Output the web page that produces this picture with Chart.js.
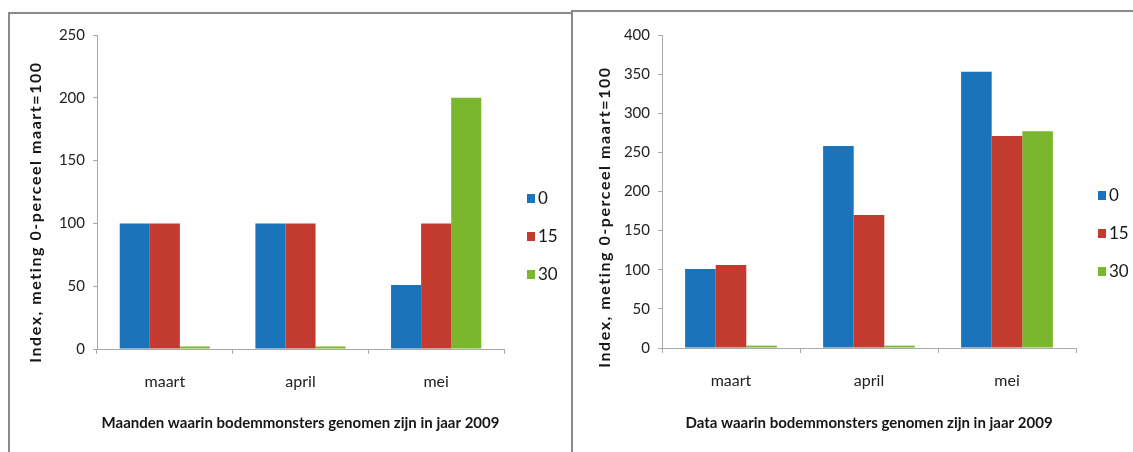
<!DOCTYPE html>
<html>
<head>
<meta charset="utf-8">
<script src="https://cdn.jsdelivr.net/npm/chart.js@4"></script>
<style>
  html, body { margin: 0; padding: 0; background: #fff; }
  body { width: 1133px; height: 452px; position: relative; overflow: hidden; }
  .frame { position: absolute; background: #8a8a8a; }
  .panel { position: absolute; }
  canvas { display: block; }
</style>
</head>
<body>
<!-- panel frames -->
<div class="frame" style="left:8px; top:12px; width:2px; height:440px;"></div>
<div class="frame" style="left:8px; top:12px; width:565px; height:2px;"></div>
<div class="frame" style="left:571px; top:12px; width:2px; height:440px;"></div>
<div class="frame" style="left:571px; top:10px; width:562px; height:2px;"></div>

<div class="panel" style="left:10px; top:14px;"><canvas id="maanden" width="558" height="438"></canvas></div>
<div class="panel" style="left:574px; top:12px;"><canvas id="data" width="559" height="440"></canvas></div>

<script>
// Sampling months
const categories = ['maart', 'april', 'mei'];
// Legend labels (series)
const seriesLabels = ['0', '15', '30'];

// Index per month, left panel
const maandenSerie0 = [100, 100, 51];
const maandenSerie15 = [100, 100, 100];
const maandenSerie30 = [2, 2, 200];

// Index per sampling date, right panel
const dataSerie0 = [101, 258, 353];
const dataSerie15 = [106, 170, 271];
const dataSerie30 = [3, 3, 277];

// Axis ranges
const maandenYMax = 250;
const dataYMax = 400;
const yStep = 50;

const yTitle = 'Index, meting 0-perceel maart=100';
const maandenXTitle = 'Maanden waarin bodemmonsters genomen zijn in jaar 2009';
const dataXTitle = 'Data waarin bodemmonsters genomen zijn in jaar 2009';

const colors = ['#1b73bb', '#c23b2e', '#7ab72d'];
const uiFont = "Lato, 'Open Sans', sans-serif";
const axisGray = '#a9a9a9';
const textDark = '#161616';

// Legend as a vertical list right of the plot area, plus a spaced-out
// vertical axis title on the left.
const panelDecor = {
  id: 'panelDecor',
  afterDraw(chart, args, opts) {
    const { ctx, chartArea } = chart;
    ctx.save();
    ctx.font = '17px ' + uiFont;
    ctx.textBaseline = 'middle';
    ctx.textAlign = 'left';
    chart.data.datasets.forEach((ds, i) => {
      const y = chartArea.top + opts.legendY + i * opts.legendGap;
      const x = chartArea.right + opts.legendX;
      ctx.fillStyle = ds.backgroundColor;
      ctx.fillRect(x, y - 4, 8, 9);
      ctx.fillStyle = textDark;
      ctx.fillText(ds.label, x + 11, y + 1);
    });
    ctx.restore();

    // vertical axis title
    ctx.save();
    ctx.font = 'bold 16px ' + uiFont;
    const natural = ctx.measureText(opts.title).width;
    const spacing = Math.max(0, (opts.titleLength - natural) / (opts.title.length - 1));
    ctx.letterSpacing = spacing.toFixed(2) + 'px';
    ctx.translate(opts.titleX, opts.titleY);
    ctx.rotate(-Math.PI / 2);
    ctx.textAlign = 'center';
    ctx.textBaseline = 'middle';
    ctx.fillStyle = textDark;
    ctx.fillText(opts.title, 0, 0);
    ctx.restore();
  }
};

function makeChart(id, values, yMax, xTitle, pad, yWidth, xHeight, decor) {
  return new Chart(document.getElementById(id), {
    type: 'bar',
    data: {
      labels: categories,
      datasets: values.map((v, i) => ({
        label: seriesLabels[i],
        data: v,
        backgroundColor: colors[i],
        borderWidth: 0
      }))
    },
    options: {
      responsive: false,
      animation: false,
      devicePixelRatio: 1,
      layout: { padding: pad },
      datasets: { bar: { categoryPercentage: 0.665, barPercentage: 1.0 } },
      plugins: {
        legend: { display: false },
        tooltip: { enabled: false },
        panelDecor: decor
      },
      scales: {
        x: {
          grid: { drawOnChartArea: false, drawTicks: true, tickLength: 5, color: axisGray, offset: true },
          border: { color: axisGray, width: 1 },
          ticks: { padding: 18, color: '#222', font: { family: uiFont, size: 16 } },
          title: {
            display: true, text: xTitle, color: textDark,
            font: { family: uiFont, size: 15, weight: 'bold' },
            padding: { top: 0, bottom: 20 }
          },
          afterFit(s) { s.height = xHeight; }
        },
        y: {
          min: 0, max: yMax,
          grid: { drawOnChartArea: false, drawTicks: true, tickLength: 4, color: axisGray },
          border: { color: axisGray, width: 1 },
          ticks: { stepSize: yStep, padding: 8, color: '#222', font: { family: uiFont, size: 15 } },
          title: { display: false },
          afterFit(s) { s.width = yWidth; }
        }
      }
    },
    plugins: [panelDecor]
  });
}

makeChart('maanden', [maandenSerie0, maandenSerie15, maandenSerie30], maandenYMax, maandenXTitle,
  { top: 21, right: 64, left: 0, bottom: 0 }, 87, 103,
  { legendY: 163, legendGap: 38, legendX: 23, title: yTitle, titleX: 26, titleY: 198, titleLength: 300 });

makeChart('data', [dataSerie0, dataSerie15, dataSerie30], dataYMax, dataXTitle,
  { top: 23, right: 57, left: 0, bottom: 0 }, 88, 104,
  { legendY: 160, legendGap: 38, legendX: 22, title: yTitle, titleX: 31, titleY: 205, titleLength: 300 });
</script>
</body>
</html>
